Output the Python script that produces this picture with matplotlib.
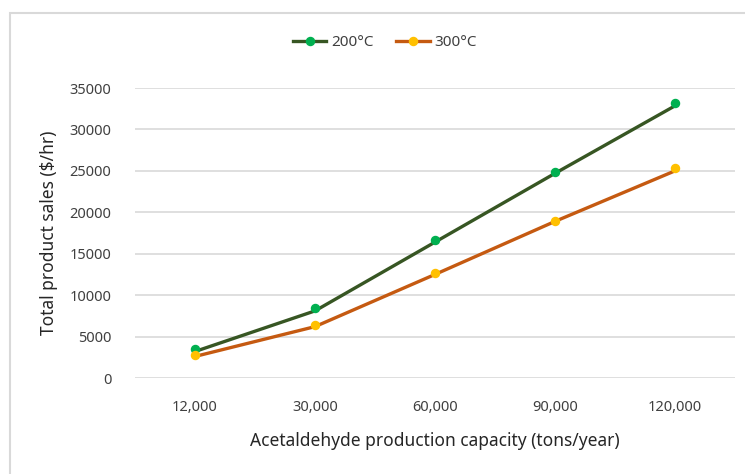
import matplotlib
matplotlib.use("Agg")
import matplotlib.pyplot as plt
from matplotlib.lines import Line2D
from matplotlib.patches import Rectangle

plt.rcParams['font.family'] = ['Noto Sans', 'DejaVu Sans']

categories = ["12,000", "30,000", "60,000", "90,000", "120,000"]
line_200 = [3200, 8100, 16400, 24700, 32850]
marker_200 = [3550, 8480, 16650, 24900, 33250]
line_300 = [2600, 6200, 12500, 18900, 25000]
marker_300 = [2780, 6400, 12680, 18990, 25300]
y_ticks = [0, 5000, 10000, 15000, 20000, 25000, 30000, 35000]
series_names = ["200°C", "300°C"]

W, H = 745, 474
fig = plt.figure(figsize=(W / 100, H / 100), dpi=100)
fig.patches.append(Rectangle((10 / W, -0.1), 1.2, 1.1 - 13 / H, transform=fig.transFigure,
                             fill=False, edgecolor="#d9d9d9", linewidth=1.5, clip_on=False))
ax = fig.add_axes([135 / W, 1 - 378 / H, 600 / W, 290 / H])

x = list(range(len(categories)))
c_line = ["#375623", "#C55A11"]
c_mark = ["#00B050", "#FFC000"]

ax.plot(x, line_200, color=c_line[0], lw=2.4, zorder=3, solid_capstyle="round")
ax.plot(x, line_300, color=c_line[1], lw=2.4, zorder=3, solid_capstyle="round")
ax.plot(x, marker_200, ls="none", marker="o", ms=5.8, color=c_mark[0], zorder=4)
ax.plot(x, marker_300, ls="none", marker="o", ms=5.8, color=c_mark[1], zorder=4)

ax.set_xlim(-0.5, len(categories) - 0.5)
ax.set_ylim(0, 35000)
ax.set_xticks(x)
ax.set_xticklabels(categories)
ax.set_yticks(y_ticks)
ax.set_yticklabels([str(v) for v in y_ticks])
ax.tick_params(axis="both", length=0, labelsize=10.5, colors="#404040")
ax.tick_params(axis="y", pad=17)
ax.tick_params(axis="x", pad=16)
for s in ax.spines.values():
    s.set_visible(False)
ax.grid(axis="y", color="#d9d9d9", lw=1.2)
ax.set_axisbelow(True)

ax.set_xlabel("Acetaldehyde production capacity (tons/year)", fontsize=12.5, color="#262626", labelpad=12)
ax.set_ylabel("Total product sales ($/hr)", fontsize=12.5, color="#262626", labelpad=8)

handles = [Line2D([0], [0], color=c_line[i], lw=2.4, marker="o", ms=5.8,
                  markerfacecolor=c_mark[i], markeredgecolor=c_mark[i]) for i in range(2)]
fig.legend(handles, series_names, loc="center", bbox_to_anchor=(385 / W, 1 - 43 / H),
           ncol=2, frameon=False, fontsize=11, handlelength=2.2, columnspacing=1.5,
           handletextpad=0.3, labelcolor="#404040")

fig.savefig("out.png", dpi=100)
